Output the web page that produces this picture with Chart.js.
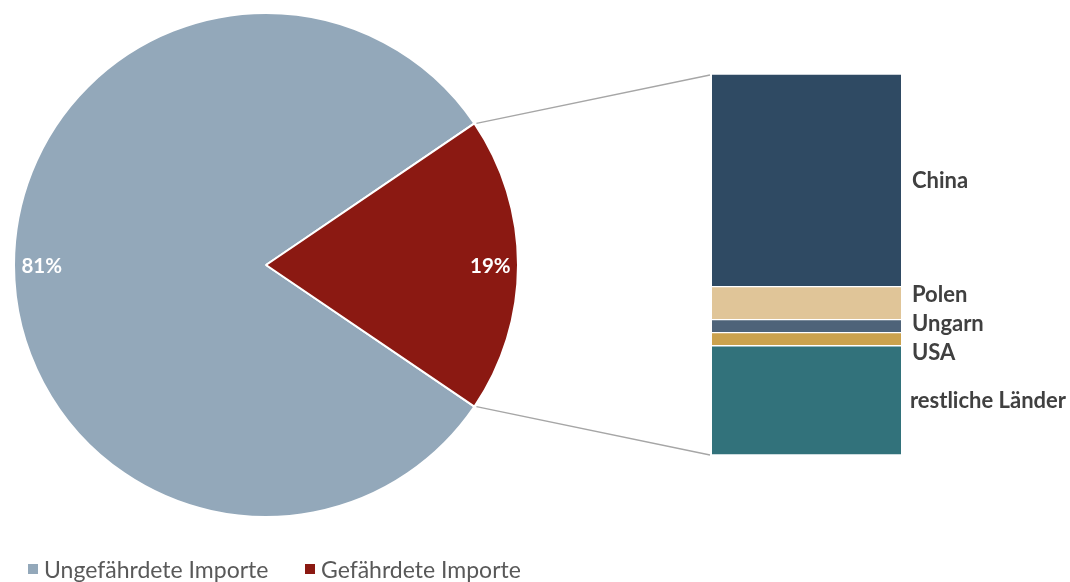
<!DOCTYPE html>
<html>
<head>
<meta charset="utf-8">
<script src="https://cdn.jsdelivr.net/npm/chart.js@4.4.1/dist/chart.umd.min.js"></script>
<style>
  html, body { margin:0; padding:0; background:#fff; }
  #wrap { position:relative; width:1070px; height:582px; overflow:hidden; }
  #wrap canvas { position:absolute; left:0; top:0; }
  #legend { position:absolute; left:28px; top:556px; font-family:Lato, "Open Sans", sans-serif; font-size:23px; line-height:26px; color:#595959; white-space:nowrap; }
  .item { position:absolute; top:0; white-space:nowrap; padding-left:16px; }
  .box { position:absolute; left:0; top:8px; width:10px; height:10px; }
</style>
</head>
<body>
<div id="wrap">
  <canvas id="pie" width="1070" height="582"></canvas>
  <canvas id="bar" width="1070" height="582"></canvas>
  <div id="legend"></div>
</div>
<script>
// ---- data ----
const pieLabels = ['Ungefährdete Importe', 'Gefährdete Importe'];
const pieValues = [81, 19];
const pieColors = ['#93A8BA', '#8B1912'];

const countries = ['China', 'Polen', 'Ungarn', 'USA', 'restliche Länder'];
const countryValues = [10.6, 1.65, 0.65, 0.65, 5.45];
const countryColors = ['#2F4A63', '#E0C598', '#4E6379', '#CBA24E', '#32727B'];

// ---- legend (HTML text) ----
const legendEl = document.getElementById('legend');
const legendOffsets = [0, 277];
pieLabels.forEach((l, i) => {
  const d = document.createElement('div');
  d.className = 'item';
  d.style.left = legendOffsets[i] + 'px';
  d.innerHTML = '<span class="box" style="background:' + pieColors[i] + '"></span>' + l;
  legendEl.appendChild(d);
});

// ---- pie ----
const pieTotal = pieValues.reduce((a, b) => a + b, 0);
const redShare = pieValues[1] / pieTotal * 360;
const pieLabelPlugin = {
  id: 'pieLabels',
  afterDatasetsDraw(chart) {
    const ctx = chart.ctx;
    const meta = chart.getDatasetMeta(0);
    ctx.save();
    ctx.font = 'bold 20.5px Lato, "Open Sans", sans-serif';
    ctx.fillStyle = '#ffffff';
    ctx.textAlign = 'center';
    ctx.textBaseline = 'middle';
    meta.data.forEach((arc, i) => {
      const mid = (arc.startAngle + arc.endAngle) / 2;
      const r = arc.outerRadius * 0.89;
      const x = arc.x + Math.cos(mid) * r;
      const y = arc.y + Math.sin(mid) * r;
      ctx.fillText(Math.round(pieValues[i] / pieTotal * 100) + '%', x, y + 1);
    });
    ctx.restore();
  }
};
const pieChart = new Chart(document.getElementById('pie'), {
  type: 'pie',
  data: {
    labels: pieLabels,
    datasets: [{ data: pieValues, backgroundColor: pieColors, borderColor: '#ffffff', borderWidth: 2 }]
  },
  options: {
    responsive: false,
    animation: false,
    rotation: 90 + redShare / 2,
    layout: { padding: { left: 13, top: 12, right: 551, bottom: 64 } },
    plugins: { legend: { display: false }, tooltip: { enabled: false } }
  },
  plugins: [pieLabelPlugin]
});

// ---- bar of pie ----
const barTotal = countryValues.reduce((a, b) => a + b, 0);
const barPlugin = {
  id: 'barExtras',
  afterDatasetsDraw(chart) {
    const ctx = chart.ctx;
    // connector lines
    const arc = pieChart.getDatasetMeta(0).data[1];
    const p1 = { x: arc.x + Math.cos(arc.startAngle) * arc.outerRadius, y: arc.y + Math.sin(arc.startAngle) * arc.outerRadius };
    const p2 = { x: arc.x + Math.cos(arc.endAngle) * arc.outerRadius, y: arc.y + Math.sin(arc.endAngle) * arc.outerRadius };
    const ys = chart.scales.y;
    const first = chart.getDatasetMeta(0).data[0];
    const left = first.x - first.width / 2;
    const right = first.x + first.width / 2;
    ctx.save();
    ctx.strokeStyle = '#A6A6A6';
    ctx.lineWidth = 1.3;
    ctx.beginPath();
    ctx.moveTo(p1.x + 2, p1.y);
    ctx.lineTo(left - 2, ys.getPixelForValue(0) + 1);
    ctx.moveTo(p2.x + 2, p2.y);
    ctx.lineTo(left - 2, ys.getPixelForValue(barTotal));
    ctx.stroke();

    // labels with overlap resolution
    const items = countries.map((c, i) => {
      const el = chart.getDatasetMeta(i).data[0];
      return { text: c, y: (el.y + el.base) / 2 };
    });
    const gap = 29;
    let clusters = items.map(it => ({ items: [it], center: it.y }));
    let changed = true;
    while (changed) {
      changed = false;
      for (let k = 0; k < clusters.length - 1; k++) {
        const a = clusters[k], b = clusters[k + 1];
        const aBottom = a.center + (a.items.length - 1) * gap / 2;
        const bTop = b.center - (b.items.length - 1) * gap / 2;
        if (bTop - aBottom < gap) {
          const all = a.items.concat(b.items);
          const mean = all.reduce((s, it) => s + it.y, 0) / all.length;
          clusters.splice(k, 2, { items: all, center: mean });
          changed = true;
          break;
        }
      }
    }
    ctx.font = 'bold 22px Lato, "Open Sans", sans-serif';
    ctx.fillStyle = '#404040';
    ctx.textAlign = 'left';
    ctx.textBaseline = 'middle';
    const maxRight = chart.width - 4;
    clusters.forEach(cl => {
      const n = cl.items.length;
      cl.items.forEach((it, j) => {
        const y = cl.center + (j - (n - 1) / 2) * gap;
        const w = ctx.measureText(it.text).width;
        const x = Math.min(right + 11, maxRight - w);
        ctx.fillText(it.text, x, y + 1);
      });
    });
    ctx.restore();
  }
};
new Chart(document.getElementById('bar'), {
  type: 'bar',
  data: {
    labels: ['Gefährdete Importe'],
    datasets: countries.map((c, i) => ({
      label: c,
      data: [countryValues[i]],
      backgroundColor: countryColors[i],
      borderColor: '#ffffff',
      borderWidth: { top: 1, bottom: 1, left: 0, right: 0 },
      borderSkipped: false,
      barPercentage: 1,
      categoryPercentage: 1
    }))
  },
  options: {
    responsive: false,
    animation: false,
    layout: { padding: { left: 712, right: 169, top: 74, bottom: 127 } },
    scales: {
      x: { display: false, stacked: true },
      y: { display: false, stacked: true, reverse: true, min: 0, max: barTotal }
    },
    plugins: { legend: { display: false }, tooltip: { enabled: false } }
  },
  plugins: [barPlugin]
});
</script>
</body>
</html>
